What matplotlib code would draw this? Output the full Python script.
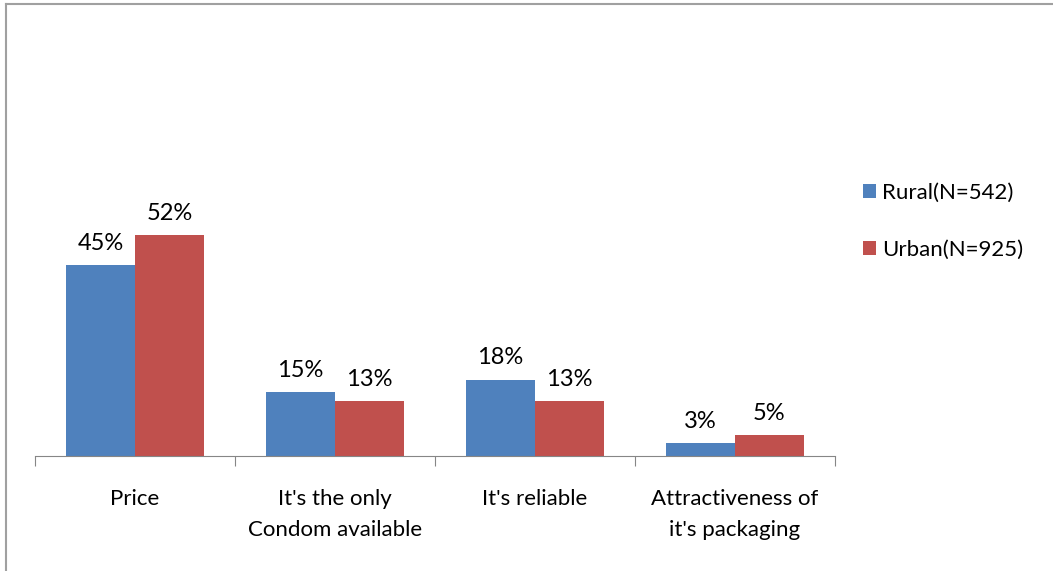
import numpy as np
import matplotlib.pyplot as plt
from matplotlib.lines import Line2D

# data
categories = ["Price", "It's the only\nCondom available", "It's reliable",
              "Attractiveness of\nit's packaging"]
rural = [45, 15, 18, 3]
urban = [52, 13, 13, 5]
series_names = ["Rural(N=542)", "Urban(N=925)"]

plt.rcParams['font.family'] = ['Lato', 'DejaVu Sans']

fig = plt.figure(figsize=(10.53, 5.71), dpi=100)
ax = fig.add_axes([35 / 1053, 115 / 571, 800 / 1053, 257 / 571])

x = np.arange(len(categories))
w = 0.345
b1 = ax.bar(x - w / 2, rural, w, color='#4F81BD', label=series_names[0])
b2 = ax.bar(x + w / 2, urban, w, color='#C0504D', label=series_names[1])

# value labels on top of bars
for bars in (b1, b2):
    for rect in bars:
        ax.annotate('%d%%' % rect.get_height(),
                    (rect.get_x() + rect.get_width() / 2, rect.get_height()),
                    xytext=(0, 8), textcoords='offset points',
                    ha='center', va='bottom', fontsize=17)

ax.set_xlim(-0.5, len(categories) - 0.5)
ax.set_ylim(0, 60.5)
for s in ['top', 'right', 'left']:
    ax.spines[s].set_visible(False)
ax.spines['bottom'].set_color('#868686')
ax.set_yticks([])

# boundary ticks, labels in the middle
ax.set_xticks(np.arange(len(categories) + 1) - 0.5)
ax.set_xticklabels([])
ax.tick_params(axis='x', which='major', length=7, color='#868686')
ax.set_xticks(x, minor=True)
ax.set_xticklabels(categories, minor=True, fontsize=16, linespacing=1.65)
ax.tick_params(axis='x', which='minor', length=0, pad=24)

fig.legend(handles=[b1, b2], loc='upper left', bbox_to_anchor=(854 / 1053, 1 - 174 / 571),
           frameon=False, fontsize=16, handlelength=0.6, handleheight=0.6,
           handletextpad=0.25, labelspacing=1.65, borderaxespad=0)

# outer frame, only top and left edges show
fig.add_artist(Line2D([6 / 1053, 1], [1 - 4 / 571, 1 - 4 / 571], transform=fig.transFigure,
                      color='#a0a0a0', lw=1.5))
fig.add_artist(Line2D([6 / 1053, 6 / 1053], [0, 1 - 4 / 571], transform=fig.transFigure,
                      color='#a0a0a0', lw=1.5))

fig.savefig('out.png', dpi=100)
